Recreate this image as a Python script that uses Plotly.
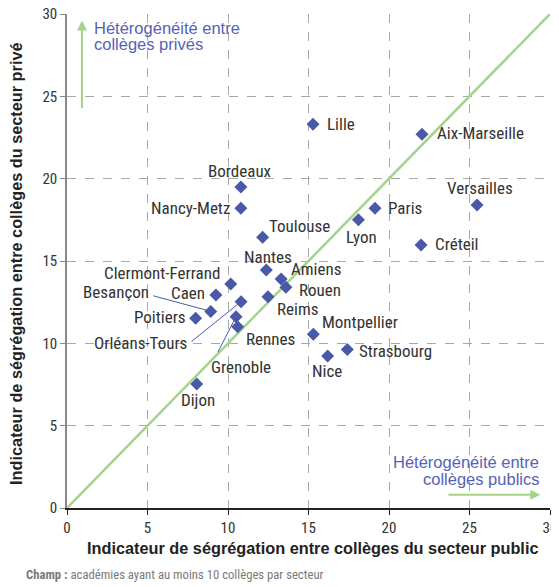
import plotly.graph_objects as go

academies = ["Lille", "Aix-Marseille", "Bordeaux", "Nancy-Metz", "Versailles", "Paris", "Lyon",
             "Toulouse", "Créteil", "Nantes", "Clermont-Ferrand", "Amiens", "Rouen", "Caen",
             "Besançon", "Poitiers", "Orléans-Tours", "Reims", "Grenoble", "Rennes", "Dijon",
             "Montpellier", "Strasbourg", "Nice"]
public_idx = [15.28, 22.05, 10.8, 10.8, 25.47, 19.13, 18.1,
              12.15, 21.99, 12.38, 10.17, 13.3, 13.6, 9.25,
              8.93, 7.99, 10.81, 12.48, 10.5, 10.6, 8.06,
              15.3, 17.41, 16.19]
private_idx = [23.3, 22.7, 19.5, 18.2, 18.4, 18.2, 17.5,
               16.44, 15.97, 14.45, 13.6, 13.9, 13.4, 12.93,
               11.94, 11.52, 12.53, 12.83, 11.62, 11.0, 7.53,
               10.55, 9.63, 9.23]
tick_vals = [0, 5, 10, 15, 20, 25, 30]

# label placement: (xanchor, xshift, yshift)
label_pos = {
    "Lille": ("left", 12, 0), "Aix-Marseille": ("left", 13, 1), "Bordeaux": ("center", -1, 16),
    "Nancy-Metz": ("right", -9, 0), "Versailles": ("center", 3, 17), "Paris": ("left", 11, 0),
    "Lyon": ("center", 3, -17), "Toulouse": ("left", 4, 11), "Créteil": ("left", 12, 1),
    "Nantes": ("center", 2, 13), "Clermont-Ferrand": ("right", -9, 11), "Amiens": ("left", 8, 10),
    "Rouen": ("left", 11, -3), "Caen": ("right", -9, 2), "Poitiers": ("right", -8, 1),
    "Reims": ("left", 7, -12), "Rennes": ("left", 6, -12), "Dijon": ("center", 1, -16),
    "Montpellier": ("left", 7, 12), "Strasbourg": ("left", 10, -2), "Nice": ("center", -1, -15),
}
# leader-line labels: label centre offset (px) and leader tail offset (px)
leader = {
    "Besançon": ((-95, -19), (-59, -16)),
    "Orléans-Tours": ((-101, 41), (-51, 41)),
    "Grenoble": ((5, 50), (-19, 37)),
}

COND = "Roboto Condensed, Roboto, sans-serif"
WIDE = "Liberation Sans, Arial, sans-serif"
BLUE = "#4a58a8"
TBLUE = "#5563b5"
GREEN = "#a3d48a"
TXT = "#333333"
LBL = 17

fig = go.Figure()
fig.add_trace(go.Scatter(x=[0, 30], y=[0, 30], mode="lines",
                         line=dict(color=GREEN, width=2.5), hoverinfo="skip", showlegend=False))
fig.add_trace(go.Scatter(x=public_idx, y=private_idx, mode="markers", text=academies,
                         marker=dict(symbol="diamond", size=10, color=BLUE),
                         showlegend=False))

annotations = []
for name, xv, yv in zip(academies, public_idx, private_idx):
    if name in label_pos:
        xa, xs, ys = label_pos[name]
        annotations.append(dict(x=xv, y=yv, text=name, showarrow=False, xanchor=xa,
                                yanchor="middle", xshift=xs, yshift=ys,
                                font=dict(family=COND, size=LBL, color=TXT)))
    elif name in leader:
        (lx, ly), (tx, ty) = leader[name]
        annotations.append(dict(x=xv, y=yv, text=name, showarrow=False, xanchor="center",
                                yanchor="middle", xshift=lx, yshift=-ly,
                                font=dict(family=COND, size=LBL, color=TXT)))
        annotations.append(dict(x=xv, y=yv, text="", showarrow=True, ax=tx, ay=ty,
                                arrowhead=0, arrowwidth=1, arrowcolor=BLUE, standoff=0))

# decorative arrows and captions
annotations.append(dict(x=0.93, y=29.6, ax=0.93, ay=24.2, xref="x", yref="y", axref="x", ayref="y",
                        text="", showarrow=True, arrowhead=2, arrowsize=1, arrowwidth=2,
                        arrowcolor=GREEN))
annotations.append(dict(x=29.4, y=0.8, ax=23.6, ay=0.8, xref="x", yref="y", axref="x", ayref="y",
                        text="", showarrow=True, arrowhead=2, arrowsize=1, arrowwidth=2,
                        arrowcolor=GREEN))
for txt, xv, yv, xa in [("Hétérogénéité entre", 1.61, 29.14, "left"),
                        ("collèges privés", 1.61, 28.17, "left"),
                        ("Hétérogénéité entre", 29.38, 2.79, "right"),
                        ("collèges publics", 29.38, 1.76, "right")]:
    annotations.append(dict(x=xv, y=yv, xref="x", yref="y", xanchor=xa, yanchor="middle",
                            text=txt, showarrow=False, borderpad=0,
                            font=dict(family=WIDE, size=16.5, color=TBLUE)))

# axis titles and footer (paper coords relative to plot area)
annotations.append(dict(x=0.509, y=-0.081, xref="paper", yref="paper", xanchor="center",
                        yanchor="middle", showarrow=False,
                        text="<b>Indicateur de ségrégation entre collèges du secteur public</b>",
                        font=dict(family=WIDE, size=16.3, color="#222")))
annotations.append(dict(x=-0.1057, y=0.494, xref="paper", yref="paper", xanchor="center",
                        yanchor="middle", showarrow=False, textangle=-90, borderpad=0,
                        text="<b>Indicateur de ségrégation entre collèges du secteur privé</b>",
                        font=dict(family=WIDE, size=16.3, color="#222")))
annotations.append(dict(x=-0.089, y=-0.1356, xref="paper", yref="paper", xanchor="left",
                        yanchor="middle", showarrow=False,
                        text="<b>Champ :</b> académies ayant au moins 10 collèges par secteur",
                        font=dict(family=COND, size=12.7, color="#7a7a7a")))

# the page body adds an 8 px offset, so the figure is 8 px smaller on each side
fig.update_layout(
    width=551, height=579,
    margin=dict(l=59, r=9, t=6, b=79),
    plot_bgcolor="white", paper_bgcolor="white",
    font=dict(family=COND, size=15, color=TXT),
    annotations=annotations,
    xaxis=dict(range=[0, 30], tickvals=tick_vals, showgrid=True, gridcolor="#a8a8a8",
               griddash="dash", gridwidth=1, zeroline=False, showline=True, linecolor="#222",
               linewidth=1.5, ticks="outside", ticklen=5, tickcolor="#222", automargin=False,
               ticklabeloverflow="allow",
               tickfont=dict(family=COND, size=15, color=TXT)),
    yaxis=dict(range=[0, 30], tickvals=tick_vals, showgrid=True, gridcolor="#a8a8a8",
               griddash="dash", gridwidth=1, zeroline=False, showline=True, linecolor="#888",
               linewidth=1.5, ticks="outside", ticklen=5, tickcolor="#888", automargin=False,
               ticklabeloverflow="allow",
               tickfont=dict(family=COND, size=15, color=TXT)),
)

fig.write_html("out.html")
